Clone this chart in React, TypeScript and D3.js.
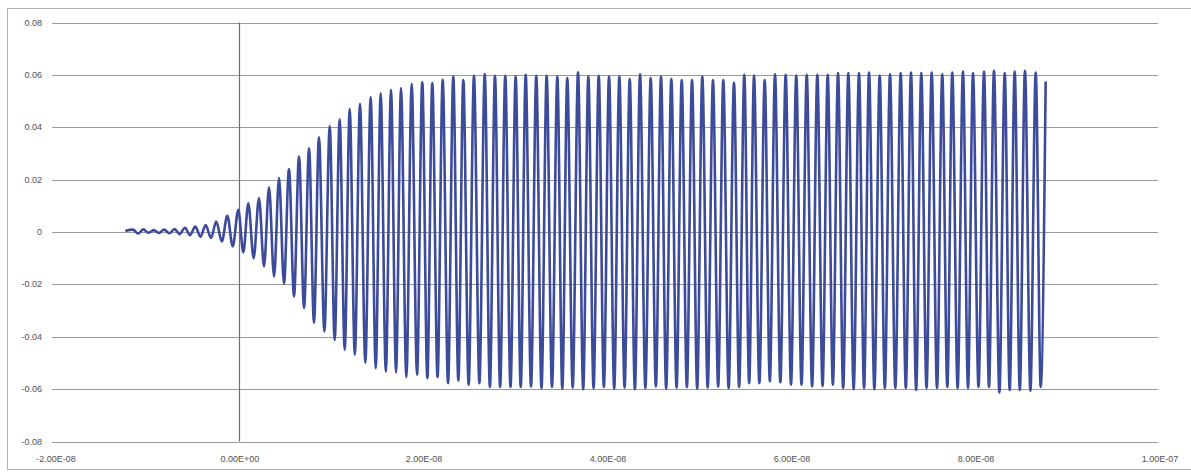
import { useEffect, useRef } from "react";
import * as d3 from "d3";

// ─── Data (time in ns, value in V) ───────────────────────────────────────────
const X_TICKS = [-20, 0, 20, 40, 60, 80, 100];
const X_TICK_LABELS = ["-2.00E-08", "0.00E+00", "2.00E-08", "4.00E-08", "6.00E-08", "8.00E-08", "1.00E-07"];
const Y_TICKS = [0.08, 0.06, 0.04, 0.02, 0, -0.02, -0.04, -0.06, -0.08];
const Y_TICK_LABELS = ["0.08", "0.06", "0.04", "0.02", "0", "-0.02", "-0.04", "-0.06", "-0.08"];

const START_POINT = { t: -12.25, v: 0.0004 };

const peakTimes = [
  -11.42, -10.29, -9.16, -8.03, -6.9, -5.77, -4.64, -3.51, -2.36, -1.16,
  0.03, 1.12, 2.28, 3.37, 4.46, 5.54, 6.63, 7.72, 8.8, 9.97,
  11.05, 12.14, 13.26, 14.42, 15.51, 16.63, 17.72, 18.88, 20.03, 21.12,
  22.25, 23.4, 24.49, 25.65, 26.82, 27.93, 29.05, 30.18, 31.27, 32.42,
  33.55, 34.71, 35.79, 36.96, 38.08, 39.21, 40.33, 41.45, 42.58, 43.7,
  44.86, 45.98, 47.1, 48.23, 49.35, 50.47, 51.63, 52.75, 53.91, 55.03,
  56.09, 57.25, 58.37, 59.53, 60.68, 61.82, 62.97, 64.1, 65.22, 66.34,
  67.5, 68.59, 69.75, 70.87, 72.03, 73.15, 74.27, 75.4, 76.55, 77.64,
  78.8, 79.89, 81.09, 82.17, 83.34, 84.42, 85.54, 86.71, 87.79,
];
const peakValues = [
  0.0009, 0.001, 0.0007, 0.0009, 0.0011, 0.0016, 0.0021, 0.0027, 0.004, 0.0062,
  0.0085, 0.011, 0.013, 0.0171, 0.0206, 0.024, 0.0288, 0.032, 0.0362, 0.0405,
  0.043, 0.047, 0.049, 0.0515, 0.053, 0.0543, 0.055, 0.0566, 0.0572, 0.0569,
  0.0581, 0.0594, 0.058, 0.0596, 0.0603, 0.0596, 0.0596, 0.0594, 0.06, 0.0596,
  0.0596, 0.0594, 0.0588, 0.061, 0.0594, 0.0596, 0.0594, 0.0594, 0.0584, 0.0602,
  0.0588, 0.0594, 0.0584, 0.058, 0.058, 0.0594, 0.058, 0.058, 0.057, 0.06,
  0.0597, 0.058, 0.0602, 0.06, 0.0597, 0.06, 0.06, 0.06, 0.0607, 0.0607,
  0.0607, 0.0609, 0.0597, 0.0602, 0.0607, 0.0609, 0.0607, 0.0609, 0.0602, 0.0609,
  0.0613, 0.0607, 0.0613, 0.0616, 0.0607, 0.0613, 0.0616, 0.0609, 0.0575,
];

const troughTimes = [
  -10.86, -9.73, -8.6, -7.47, -6.34, -5.21, -4.08, -2.94, -1.76, -0.57,
  0.58, 1.7, 2.83, 3.92, 5.0, 6.09, 7.18, 8.26, 9.39, 10.51,
  11.6, 12.7, 13.84, 14.97, 16.07, 17.18, 18.3, 19.46, 20.58, 21.69,
  22.83, 23.95, 25.07, 26.24, 27.38, 28.49, 29.62, 30.73, 31.85, 32.99,
  34.13, 35.25, 36.38, 37.52, 38.65, 39.77, 40.89, 42.02, 43.14, 44.28,
  45.42, 46.54, 47.67, 48.79, 49.91, 51.05, 52.19, 53.33, 54.47, 55.56,
  56.67, 57.81, 58.95, 60.11, 61.25, 62.4, 63.54, 64.66, 65.78, 66.92,
  68.05, 69.17, 70.31, 71.45, 72.59, 73.71, 74.84, 75.98, 77.1, 78.22,
  79.35, 80.49, 81.63, 82.76, 83.88, 84.98, 86.13, 87.25,
];
const troughValues = [
  -0.0006, -0.0003, -0.0004, -0.0005, -0.0008, -0.0012, -0.0018, -0.0023, -0.0036, -0.0055,
  -0.0078, -0.01, -0.0132, -0.017, -0.0197, -0.0246, -0.029, -0.0346, -0.038, -0.0412,
  -0.045, -0.0469, -0.05, -0.052, -0.0533, -0.0536, -0.0554, -0.0545, -0.0558, -0.0554,
  -0.0577, -0.0567, -0.0583, -0.0577, -0.0592, -0.0592, -0.0592, -0.0592, -0.059, -0.0596,
  -0.0592, -0.0598, -0.0594, -0.06, -0.0596, -0.0592, -0.0598, -0.0594, -0.06, -0.0596,
  -0.059, -0.0598, -0.0594, -0.0592, -0.0598, -0.0594, -0.059, -0.0596, -0.0592, -0.0577,
  -0.0577, -0.057, -0.0574, -0.0583, -0.0583, -0.059, -0.0588, -0.0583, -0.0596, -0.06,
  -0.0596, -0.06, -0.0596, -0.0596, -0.0596, -0.0603, -0.0596, -0.0596, -0.0592, -0.0596,
  -0.0596, -0.0592, -0.0592, -0.0613, -0.0603, -0.0603, -0.0606, -0.0592,
];

// ─── Chart ───────────────────────────────────────────────────────────────────
export default function App() {
  const svgRef = useRef<SVGSVGElement>(null);

  useEffect(() => {
    if (!svgRef.current) return;

    const width = 1191;
    const svg = d3.select(svgRef.current);
    svg.selectAll("*").remove();

    // merge extremes into one time-ordered trace
    const trace = [
      START_POINT,
      ...peakTimes.map((t, i) => ({ t, v: peakValues[i] })),
      ...troughTimes.map((t, i) => ({ t, v: troughValues[i] })),
    ].sort((a, b) => a.t - b.t);

    // ── Scales ─────────────────────────────────────────────────────────────
    const xScale = d3.scaleLinear().domain([-20, 100]).range([54, 1158]);
    const yScale = d3.scaleLinear().domain([-0.08, 0.08]).range([441.5, 22.5]);

    // ── Chart area border ──────────────────────────────────────────────────
    svg
      .append("rect")
      .attr("x", 7.5)
      .attr("y", 8.5)
      .attr("width", width - 7)
      .attr("height", 461)
      .attr("fill", "#fff")
      .attr("stroke", "#b0b0b0")
      .attr("stroke-width", 1);

    // ── Horizontal grid lines ──────────────────────────────────────────────
    svg
      .append("g")
      .selectAll("line")
      .data(Y_TICKS)
      .enter()
      .append("line")
      .attr("x1", xScale(-20) - 2)
      .attr("x2", xScale(100))
      .attr("y1", (d) => Math.round(yScale(d)) + 0.5)
      .attr("y2", (d) => Math.round(yScale(d)) + 0.5)
      .attr("stroke", "#9a9a9a")
      .attr("stroke-width", 1.2);

    // ── Vertical axis at x = 0 ─────────────────────────────────────────────
    svg
      .append("line")
      .attr("x1", Math.round(xScale(0)) + 1.5)
      .attr("x2", Math.round(xScale(0)) + 1.5)
      .attr("y1", yScale(0.08))
      .attr("y2", yScale(-0.08))
      .attr("stroke", "#707070")
      .attr("stroke-width", 1.2);

    // ── Tick labels ────────────────────────────────────────────────────────
    svg
      .append("g")
      .selectAll("text")
      .data(Y_TICKS)
      .enter()
      .append("text")
      .attr("x", 42)
      .attr("y", (d) => yScale(d) + 3)
      .attr("text-anchor", "end")
      .attr("font-family", "Liberation Sans, Arial, sans-serif")
      .attr("font-size", 9)
      .attr("fill", "#505050")
      .text((_, i) => Y_TICK_LABELS[i]);

    svg
      .append("g")
      .selectAll("text")
      .data(X_TICKS)
      .enter()
      .append("text")
      .attr("x", (d) => xScale(d) + 2)
      .attr("y", 462)
      .attr("text-anchor", "middle")
      .attr("font-family", "Liberation Sans, Arial, sans-serif")
      .attr("font-size", 9)
      .attr("fill", "#505050")
      .text((_, i) => X_TICK_LABELS[i]);

    // ── Signal trace ───────────────────────────────────────────────────────
    const line = d3
      .line<{ t: number; v: number }>()
      .x((d) => xScale(d.t))
      .y((d) => yScale(d.v))
      .curve(d3.curveMonotoneX);

    svg
      .append("path")
      .datum(trace)
      .attr("d", line)
      .attr("fill", "none")
      .attr("stroke", "#3d4b9b")
      .attr("stroke-width", 2.6)
      .attr("stroke-linejoin", "round");
  }, []);

  return (
    <svg
      ref={svgRef}
      width="1191"
      height="473"
      viewBox="0 0 1191 473"
      style={{ position: "absolute", left: 0, top: 0, background: "#fff" }}
    />
  );
}
